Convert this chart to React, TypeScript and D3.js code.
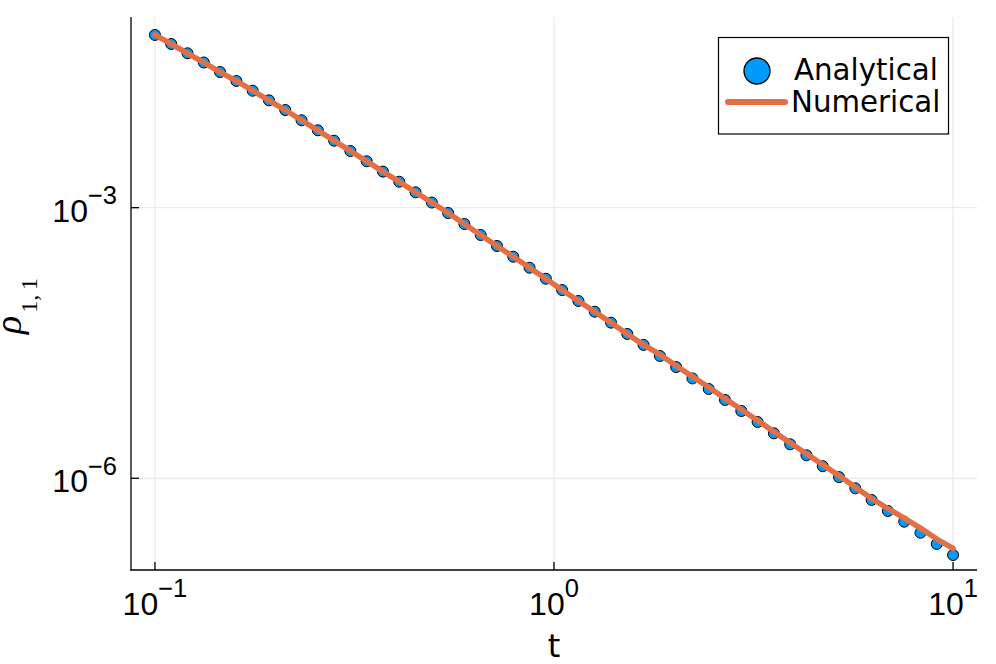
import React, { useEffect, useRef } from "react";
import * as d3 from "d3";

// time grid (log-spaced, 0.1 .. 10)
const tValues = [
  0.1, 0.10985, 0.12068, 0.13257, 0.14563, 0.15999, 0.17575, 0.19307, 0.2121, 0.233,
  0.25595, 0.28118, 0.30888, 0.33932, 0.37276, 0.40949, 0.44984, 0.49417, 0.54287, 0.59636,
  0.65513, 0.71969, 0.7906, 0.86851, 0.9541, 1.04811, 1.1514, 1.26486, 1.3895, 1.52642,
  1.67683, 1.84207, 2.02359, 2.223, 2.44205, 2.6827, 2.94705, 3.23746, 3.55648, 3.90694,
  4.29193, 4.71487, 5.17947, 5.68987, 6.25055, 6.86649, 7.54312, 8.28643, 9.10298, 10,
];

// rho_{1,1}, analytical (markers)
const analytical = [
  8.22e-2, 6.53e-2, 5.15e-2, 4.07e-2, 3.19e-2, 2.54e-2, 1.98e-2, 1.55e-2, 1.21e-2, 9.31e-3,
  7.21e-3, 5.53e-3, 4.25e-3, 3.27e-3, 2.51e-3, 1.94e-3, 1.48e-3, 1.14e-3, 8.73e-4, 6.59e-4,
  4.98e-4, 3.76e-4, 2.86e-4, 2.16e-4, 1.63e-4, 1.22e-4, 9.24e-5, 7.03e-5, 5.31e-5, 3.98e-5,
  3.01e-5, 2.27e-5, 1.71e-5, 1.28e-5, 9.77e-6, 7.38e-6, 5.57e-6, 4.21e-6, 3.15e-6, 2.38e-6,
  1.8e-6, 1.36e-6, 1.03e-6, 7.74e-7, 5.75e-7, 4.34e-7, 3.3e-7, 2.49e-7, 1.87e-7, 1.41e-7,
];

// rho_{1,1}, numerical (line)
const numerical = [
  8.22e-2, 6.53e-2, 5.15e-2, 4.07e-2, 3.19e-2, 2.54e-2, 1.98e-2, 1.55e-2, 1.21e-2, 9.31e-3,
  7.21e-3, 5.53e-3, 4.25e-3, 3.27e-3, 2.51e-3, 1.94e-3, 1.48e-3, 1.14e-3, 8.73e-4, 6.59e-4,
  4.98e-4, 3.76e-4, 2.86e-4, 2.16e-4, 1.63e-4, 1.22e-4, 9.24e-5, 7.03e-5, 5.31e-5, 3.98e-5,
  3.01e-5, 2.36e-5, 1.77e-5, 1.34e-5, 1.02e-5, 7.67e-6, 5.79e-6, 4.38e-6, 3.28e-6, 2.48e-6,
  1.87e-6, 1.41e-6, 1.07e-6, 7.94e-7, 5.97e-7, 4.62e-7, 3.61e-7, 2.8e-7, 2.12e-7, 1.67e-7,
];

const xTicks = [0.1, 1, 10];
const xTickExp = ["−1", "0", "1"];
const yTicks = [1e-3, 1e-6];
const yTickExp = ["−3", "−6"];
const seriesNames = ["Analytical", "Numerical"];

const App = () => {
  const svgRef = useRef<SVGSVGElement>(null);

  useEffect(() => {
    const svg = d3.select(svgRef.current);
    svg.selectAll("*").remove();

    const width = 996;
    const height = 664;
    const plot = { left: 131, right: 977, top: 17, bottom: 570 };

    const x = d3
      .scaleLog()
      .domain([Math.pow(10, -1.06), Math.pow(10, 1.06)])
      .range([plot.left, plot.right]);

    const y = d3
      .scaleLog()
      .domain([Math.pow(10, -7.017), Math.pow(10, -0.886)])
      .range([plot.bottom, plot.top]);

    svg.attr("width", width).attr("height", height);
    svg.append("rect").attr("width", width).attr("height", height).attr("fill", "white");

    // grid
    svg
      .append("g")
      .selectAll("line")
      .data(xTicks)
      .join("line")
      .attr("x1", (d) => x(d))
      .attr("x2", (d) => x(d))
      .attr("y1", plot.top)
      .attr("y2", plot.bottom)
      .attr("stroke", "#e6e6e6")
      .attr("stroke-width", 1);

    svg
      .append("g")
      .selectAll("line")
      .data(yTicks)
      .join("line")
      .attr("x1", plot.left)
      .attr("x2", plot.right)
      .attr("y1", (d) => y(d))
      .attr("y2", (d) => y(d))
      .attr("stroke", "#e6e6e6")
      .attr("stroke-width", 1);

    // axes lines + inward ticks
    const axes = svg.append("g").attr("stroke", "black").attr("stroke-width", 1.3);
    axes.append("line").attr("x1", plot.left).attr("x2", plot.left).attr("y1", plot.top).attr("y2", plot.bottom + 0.6);
    axes.append("line").attr("x1", plot.left - 0.6).attr("x2", plot.right).attr("y1", plot.bottom).attr("y2", plot.bottom);
    axes
      .selectAll(".xt")
      .data(xTicks)
      .join("line")
      .attr("x1", (d) => x(d))
      .attr("x2", (d) => x(d))
      .attr("y1", plot.bottom)
      .attr("y2", plot.bottom - 8);
    axes
      .selectAll(".yt")
      .data(yTicks)
      .join("line")
      .attr("x1", plot.left)
      .attr("x2", plot.left + 8)
      .attr("y1", (d) => y(d))
      .attr("y2", (d) => y(d));

    // tick labels
    const tickFont = "'Liberation Sans', Arial, sans-serif";
    xTicks.forEach((d, i) => {
      const t = svg
        .append("text")
        .attr("x", x(d))
        .attr("y", 615)
        .attr("text-anchor", "middle")
        .attr("font-family", tickFont)
        .attr("font-size", 32)
        .attr("fill", "black");
      t.append("tspan").text("10");
      t.append("tspan").attr("dy", -18).attr("font-size", 25.5).text(xTickExp[i]);
    });
    yTicks.forEach((d, i) => {
      const t = svg
        .append("text")
        .attr("x", 117)
        .attr("y", y(d) + 14)
        .attr("text-anchor", "end")
        .attr("font-family", tickFont)
        .attr("font-size", 32)
        .attr("fill", "black");
      t.append("tspan").text("10");
      t.append("tspan").attr("dy", -17.5).attr("font-size", 25.5).text(yTickExp[i]);
    });

    // axis titles
    svg
      .append("text")
      .attr("x", 554)
      .attr("y", 657)
      .attr("text-anchor", "middle")
      .attr("font-family", "'DejaVu Sans', sans-serif")
      .attr("font-size", 32)
      .attr("fill", "black")
      .text("t");

    const yl = svg
      .append("text")
      .attr("transform", "translate(21,334) rotate(-90)")
      .attr("text-anchor", "start")
      .attr("font-family", "'Liberation Serif', 'DejaVu Serif', serif")
      .attr("fill", "black");
    yl.append("tspan").attr("font-style", "italic").attr("font-size", 38).text("ρ");
    yl.append("tspan").attr("dx", 3).attr("dy", 16).attr("font-size", 24).text("1,\u20091");

    // markers
    svg
      .append("g")
      .selectAll("circle")
      .data(tValues)
      .join("circle")
      .attr("cx", (d) => x(d))
      .attr("cy", (d, i) => y(analytical[i]))
      .attr("r", 5.5)
      .attr("fill", "#009AFA")
      .attr("stroke", "black")
      .attr("stroke-width", 1);

    // numerical line
    const line = d3
      .line<number>()
      .x((d) => x(d))
      .y((d, i) => y(numerical[i]));

    svg
      .append("path")
      .datum(tValues)
      .attr("fill", "none")
      .attr("stroke", "#E26F46")
      .attr("stroke-width", 5.5)
      .attr("stroke-linejoin", "round")
      .attr("stroke-linecap", "round")
      .attr("d", line);

    // legend
    const lg = svg.append("g");
    lg.append("rect")
      .attr("x", 718.5)
      .attr("y", 37.5)
      .attr("width", 230)
      .attr("height", 96.5)
      .attr("fill", "white")
      .attr("stroke", "black")
      .attr("stroke-width", 1.2);
    lg.append("circle")
      .attr("cx", 757)
      .attr("cy", 71)
      .attr("r", 13)
      .attr("fill", "#009AFA")
      .attr("stroke", "black")
      .attr("stroke-width", 1.3);
    lg.append("line")
      .attr("x1", 728)
      .attr("x2", 785)
      .attr("y1", 102)
      .attr("y2", 102)
      .attr("stroke", "#E26F46")
      .attr("stroke-width", 6)
      .attr("stroke-linecap", "round");
    lg.selectAll("text")
      .data(seriesNames)
      .join("text")
      .attr("x", (d, i) => (i === 0 ? 794 : 791))
      .attr("y", (d, i) => (i === 0 ? 80 : 112))
      .attr("font-family", "'DejaVu Sans', sans-serif")
      .attr("font-size", 29.3)
      .attr("fill", "black")
      .text((d) => d);
  }, []);

  return <svg ref={svgRef} style={{ position: "absolute", left: 0, top: 0 }}></svg>;
};

export default App;
